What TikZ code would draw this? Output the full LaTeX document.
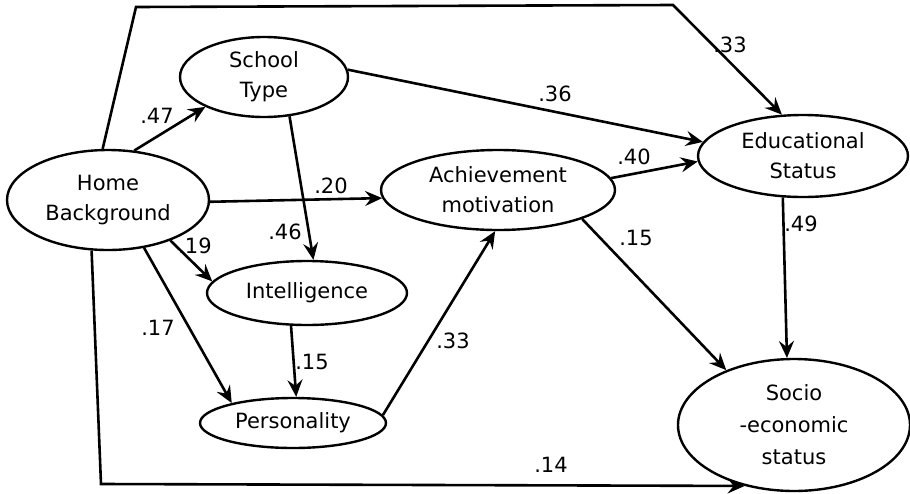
\documentclass[tikz,border=0pt]{standalone}
\usepackage{fontspec}
\setmainfont{DejaVu Sans}
\usetikzlibrary{arrows.meta,shapes.geometric}
\begin{document}
\begin{tikzpicture}[x=0.5pt,y=-0.5pt,
  var/.style={ellipse,draw,line width=1.2pt,inner sep=0pt,align=center,
    font=\fontsize{10.5}{15}\selectfont},
  conn/.style={line width=1.3pt,-{Stealth[length=8.5pt,width=7.5pt,inset=3pt]}},
  lab/.style={font=\fontsize{10.5}{13}\selectfont,inner sep=0pt}]
\useasboundingbox (0,0) rectangle (910,493);
\node[var,minimum width=101pt,minimum height=50pt] (hb) at (108,200) {Home\\Background};
\node[var,minimum width=84pt,minimum height=40pt] (st) at (264,77) {School\\Type};
\node[var,minimum width=117pt,minimum height=40pt] (am) at (498,190) {Achievement\\motivation};
\node[var,minimum width=105pt,minimum height=41pt] (es) at (803,156) {Educational\\Status};
\node[var,minimum width=100pt,minimum height=32pt] (in) at (307,293) {Intelligence};
\node[var,minimum width=93pt,minimum height=25pt] (pe) at (293,423) {Personality};
\node[var,minimum width=116pt,minimum height=66pt,font=\fontsize{10.5}{16}\selectfont] (se) at (794,425) {Socio\\-economic\\status};
\coordinate (t1) at (136,7);
\coordinate (t2) at (673,5);
\coordinate (b1) at (101,484);
% connectors
\draw[conn] (hb.96) -- (t1) -- (t2) -- (es.117);
\draw[conn] (hb.-108) -- (b1) -- (se.-129);
\draw[conn] (hb.62) -- (st.-153);
\draw[conn] (hb.-1) -- (am.-176);
\draw[conn] (hb.-33) -- (in.173);
\draw[conn] (hb.-53) -- (pe.162);
\draw[conn] (st.-57) -- (in.79);
\draw[conn] (st.5) -- (es.172);
\draw[conn] (in.-116) -- (pe.83);
\draw[conn] (pe.5) -- (am.-94);
\draw[conn] (am.6) -- (es.-177);
\draw[conn] (am.-19) -- (se.141);
\draw[conn] (es.-116) -- (se.96);
% labels
\node[lab] (l1) at (157,116) {.47};
\node[lab] (l2) at (331,186) {.20};
\node[lab] (l3) at (285,232) {.46};
\node[lab] (l4) at (195,246) {.19};
\node[lab] (l5) at (158,328) {.17};
\node[lab] (l6) at (312,362) {.15};
\node[lab] (l7) at (453,341) {.33};
\node[lab] (l8) at (555,94) {.36};
\node[lab] (l9) at (634,157) {.40};
\node[lab] (l10) at (636,238) {.15};
\node[lab] (l11) at (801,224) {.49};
\node[lab] (l12) at (730,45) {.33};
\node[lab] (l13) at (551,465) {.14};
\end{tikzpicture}
\end{document}
